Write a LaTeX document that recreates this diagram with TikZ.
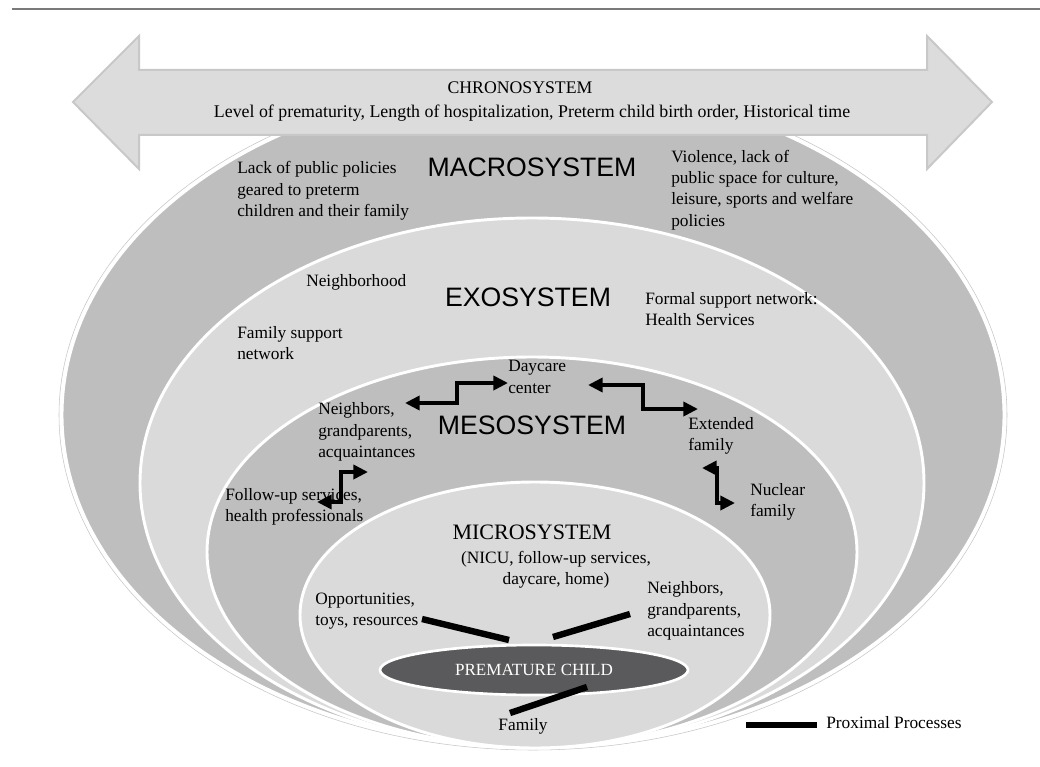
\documentclass[tikz,border=0pt]{standalone}
\usepackage{fontspec}
\setmainfont{Liberation Serif}
\newfontfamily\sansf{Liberation Sans}
\usetikzlibrary{shapes.geometric,arrows.meta}
\definecolor{darkband}{HTML}{BEBEBE}
\definecolor{lightband}{HTML}{DADADA}
\definecolor{childc}{HTML}{5A5A5C}
\definecolor{arrfill}{HTML}{DCDCDD}
\definecolor{arrdraw}{HTML}{C8C8C8}
\definecolor{rulec}{HTML}{7A7A7A}
\begin{document}
\begin{tikzpicture}[x=0.75pt,y=-0.75pt,
  sys/.style={ellipse, inner sep=0pt, draw=white, line width=2.2pt},
  lbl/.style={font=\fontsize{13}{16}\selectfont, align=left, anchor=west, inner sep=0pt},
  sysname/.style={font=\sansf\fontsize{20}{24}\selectfont, inner sep=0pt},
  link/.style={line width=3pt, line join=miter, {Triangle[length=11pt,width=10.5pt]}-{Triangle[length=11pt,width=10.5pt]}},
  prox/.style={line width=4.8pt}
]
\useasboundingbox (0,0) rectangle (1040,767);
\fill[white] (0,0) rectangle (1040,767);
\draw[rulec, line width=1.5pt] (12,9) -- (1040,9);

% nested systems
\node[draw=gray!45, line width=0.4pt, ellipse, inner sep=0pt, minimum width={948*0.75pt}, minimum height={670*0.75pt}] (macroout) at (533,415) {};
\node[sys, fill=darkband, minimum width={942*0.75pt}, minimum height={664*0.75pt}] (macro) at (533,415) {};
\node[sys, fill=lightband, minimum width={784*0.75pt}, minimum height={530*0.75pt}] (exo) at (532,483) {};
\node[sys, fill=darkband, minimum width={650*0.75pt}, minimum height={390*0.75pt}] (meso) at (532,552) {};
\node[sys, fill=lightband, minimum width={470*0.75pt}, minimum height={266*0.75pt}] (micro) at (535,615) {};
\node[ellipse, inner sep=0pt, draw=white, line width=2pt, fill=childc, text=white,
  font=\fontsize{12.8}{15}\selectfont, minimum width={308*0.75pt}, minimum height={50*0.75pt}] (child) at (534,670) {PREMATURE CHILD};

% chronosystem arrow
\filldraw[fill=arrfill, draw=arrdraw, line width=1.5pt, line join=miter]
  (73,102) -- (139,36) -- (139,70) -- (927,70) -- (927,36) -- (992,102)
  -- (927,169) -- (927,135) -- (139,135) -- (139,169) -- cycle;
\node[font=\fontsize{13.3}{16}\selectfont, inner sep=0pt] (chrono) at (520,88) {CHRONOSYSTEM};
\node[font=\fontsize{13.4}{16}\selectfont, inner sep=0pt] (chronod) at (532,113) {Level of prematurity, Length of hospitalization, Preterm child birth order, Historical time};

% macrosystem
\node[sysname] (macrot) at (532,167) {MACROSYSTEM};
\node[lbl] (lackpol) at (237,191) {Lack of public policies\\geared to preterm\\children and their family};
\node[lbl] (violence) at (671,190) {Violence, lack of\\public space for culture,\\leisure, sports and welfare\\policies};

% exosystem
\node[lbl] (neighh) at (306,282) {Neighborhood};
\node[sysname] (exot) at (528,297) {EXOSYSTEM};
\node[lbl] (formal) at (645,309) {Formal support network:\\Health Services};
\node[lbl] (famsup) at (237,343) {Family support\\network};

% mesosystem
\node[lbl] (daycare) at (508,377) {Daycare\\center};
\node[lbl] (neighm) at (318,432) {Neighbors,\\grandparents,\\acquaintances};
\node[sysname] (mesot) at (532,425) {MESOSYSTEM};
\node[lbl] (extfam) at (688,436) {Extended\\family};
\node[lbl] (nucfam) at (750,502) {Nuclear\\family};
\node[lbl] (follow) at (225,507) {Follow-up services,\\health professionals};

\coordinate (a1l) at (405,403); \coordinate (a1r) at (508,383);
\coordinate (a2l) at (588,385); \coordinate (a2r) at (698,409);
\coordinate (a3l) at (317,502); \coordinate (a3r) at (368,472);
\coordinate (a4l) at (702,468); \coordinate (a4r) at (735,503);
\draw[link] (a1l) -- (457,403) -- (457,383) -- (a1r);
\draw[link] (a2l) -- (643,385) -- (643,409) -- (a2r);
\draw[link] (a3l) -- (341,502) -- (341,472) -- (a3r);
\draw[link] (a4l) -- (717,468) -- (717,503) -- (a4r);

% microsystem
\node[font=\fontsize{16.5}{20}\selectfont, inner sep=0pt] (microt) at (532,532) {MICROSYSTEM};
\node[lbl, align=center, anchor=center] (nicu) at (556,570) {(NICU, follow-up services,\\daycare, home)};
\node[lbl] (opp) at (315,611) {Opportunities,\\toys, resources};
\node[lbl] (neighmi) at (647,611) {Neighbors,\\grandparents,\\acquaintances};
\node[lbl, anchor=center] (family) at (523,726) {Family};

\coordinate (p1a) at (422,619); \coordinate (p1b) at (509,640);
\coordinate (p2a) at (630,614); \coordinate (p2b) at (553,637);
\coordinate (p3a) at (510,713); \coordinate (p3b) at (587,687);
\draw[prox] (p1a) -- (p1b);
\draw[prox] (p2a) -- (p2b);
\draw[prox] (p3a) -- (p3b);

% legend
\coordinate (lega) at (746,725); \coordinate (legb) at (817,725);
\draw[prox] (lega) -- (legb);
\node[lbl] (legt) at (826,723) {Proximal Processes};
\end{tikzpicture}
\end{document}
